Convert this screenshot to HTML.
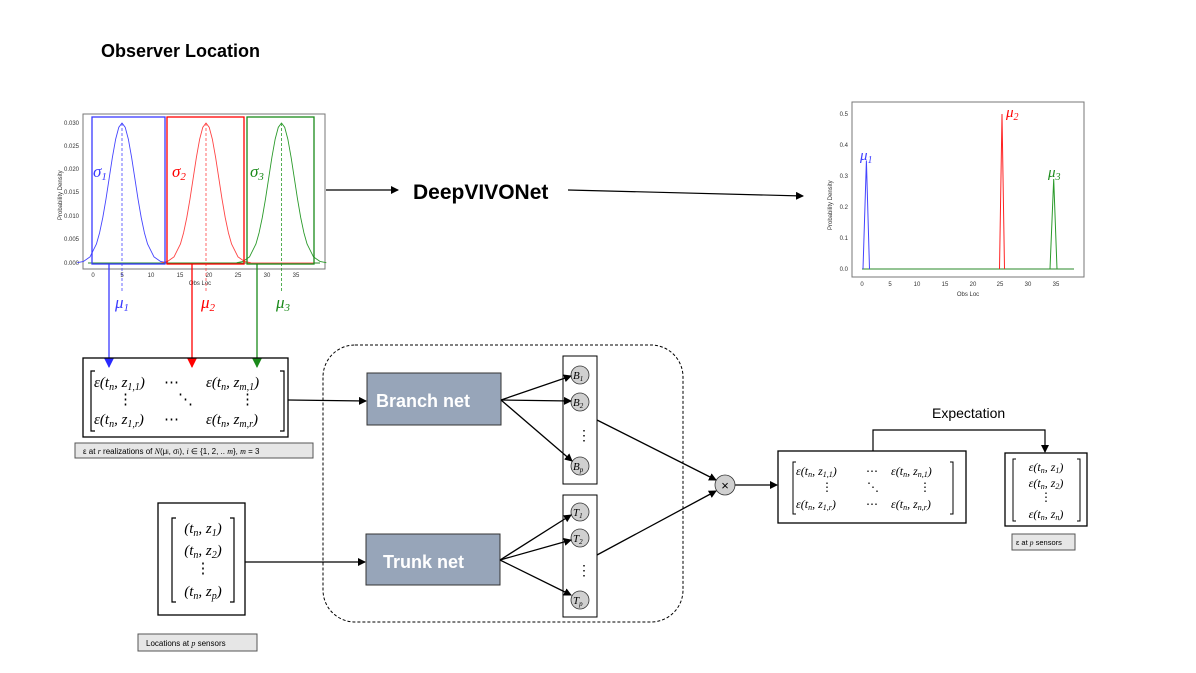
<!DOCTYPE html>
<html><head><meta charset="utf-8"><style>
html,body{margin:0;padding:0;background:#fff;}
svg{display:block;font-family:"Liberation Sans",sans-serif;}
.m{font-family:"Liberation Serif",serif;font-style:italic;}
.n{font-style:normal;}
</style></head><body>
<svg width="1196" height="673" viewBox="0 0 1196 673" xmlns="http://www.w3.org/2000/svg">
<defs>
<marker id="a" markerWidth="8" markerHeight="8" refX="7" refY="4" orient="auto" markerUnits="userSpaceOnUse"><path d="M0,0L8,4L0,8z" fill="#000"/></marker>
<marker id="ab" markerWidth="10" markerHeight="10" refX="9" refY="5" orient="auto" markerUnits="userSpaceOnUse"><path d="M0,0L10,5L0,10z" fill="#2a2aff"/></marker>
<marker id="ar" markerWidth="10" markerHeight="10" refX="9" refY="5" orient="auto" markerUnits="userSpaceOnUse"><path d="M0,0L10,5L0,10z" fill="#f00"/></marker>
<marker id="ag" markerWidth="10" markerHeight="10" refX="9" refY="5" orient="auto" markerUnits="userSpaceOnUse"><path d="M0,0L10,5L0,10z" fill="#1a8a1a"/></marker>
<path id="g" fill="none" stroke-width="0.9" stroke-linejoin="round" d="M-44.8,262.7 L-38.4,261.4 L-32,256.9 L-25.6,244.1 L-22.4,232.7 L-19.2,217.5 L-16,198.9 L-12.8,178.1 L-9.6,157.3 L-6.4,139.4 L-3.2,127.3 L0,123 L3.2,127.3 L6.4,139.4 L9.6,157.3 L12.8,178.1 L16,198.9 L19.2,217.5 L22.4,232.7 L25.6,244.1 L32,256.9 L38.4,261.4 L44.8,262.7"/>
</defs>

<text x="101" y="57" font-size="18" font-weight="bold">Observer Location</text>

<!-- left plot -->
<rect x="83" y="114" width="242" height="155" fill="none" stroke="#777" stroke-width="1"/>
<g font-size="6" fill="#333" text-anchor="end">
<text x="79" y="125">0.030</text><text x="79" y="148">0.025</text><text x="79" y="171">0.020</text><text x="79" y="194">0.015</text><text x="79" y="218">0.010</text><text x="79" y="241">0.005</text><text x="79" y="265">0.000</text>
</g>
<g font-size="6" fill="#333" text-anchor="middle">
<text x="93" y="277">0</text><text x="122" y="277">5</text><text x="151" y="277">10</text><text x="180" y="277">15</text><text x="209" y="277">20</text><text x="238" y="277">25</text><text x="267" y="277">30</text><text x="296" y="277">35</text>
<text x="200" y="285">Obs Loc</text>
</g>
<text font-size="6" fill="#333" transform="translate(62,220) rotate(-90)">Probability Density</text>
<line x1="88" y1="263" x2="320" y2="263" stroke="#2a8a2a" stroke-width="1"/>
<line x1="246" y1="263" x2="314" y2="263" stroke="#f55" stroke-width="1"/>
<use href="#g" transform="translate(122,0)" stroke="#4444ff"/>
<use href="#g" transform="translate(206,0)" stroke="#f44"/>
<use href="#g" transform="translate(281.5,0)" stroke="#2a9a2a"/>
<g stroke-dasharray="3,2" stroke-width="0.8">
<line x1="122" y1="123" x2="122" y2="292" stroke="#44f"/>
<line x1="206" y1="123" x2="206" y2="292" stroke="#f44"/>
<line x1="281.5" y1="123" x2="281.5" y2="292" stroke="#2a9a2a"/>
</g>
<rect x="92" y="117" width="73" height="147" fill="none" stroke="#3a3aff" stroke-width="1.3"/>
<rect x="167" y="117" width="77" height="147" fill="none" stroke="#f00" stroke-width="1.3"/>
<rect x="247" y="117" width="67" height="147" fill="none" stroke="#1a8a1a" stroke-width="1.3"/>
<text class="m" x="93" y="177" font-size="17" fill="#3a3aff">σ<tspan font-size="11" dy="3">1</tspan></text>
<text class="m" x="172" y="177" font-size="17" fill="#f00">σ<tspan font-size="11" dy="3">2</tspan></text>
<text class="m" x="250" y="177" font-size="17" fill="#1a8a1a">σ<tspan font-size="11" dy="3">3</tspan></text>
<text class="m" x="115" y="308" font-size="17" fill="#3a3aff">μ<tspan font-size="11" dy="3">1</tspan></text>
<text class="m" x="201" y="308" font-size="17" fill="#f00">μ<tspan font-size="11" dy="3">2</tspan></text>
<text class="m" x="276" y="308" font-size="17" fill="#1a8a1a">μ<tspan font-size="11" dy="3">3</tspan></text>
<line x1="109" y1="264" x2="109" y2="367" stroke="#3a3aff" stroke-width="1.3" marker-end="url(#ab)"/>
<line x1="192" y1="264" x2="192" y2="367" stroke="#f00" stroke-width="1.3" marker-end="url(#ar)"/>
<line x1="257" y1="264" x2="257" y2="367" stroke="#1a8a1a" stroke-width="1.3" marker-end="url(#ag)"/>

<!-- DeepVIVONet -->
<line x1="326" y1="190" x2="398" y2="190" stroke="#000" stroke-width="1.2" marker-end="url(#a)"/>
<text x="413" y="199" font-size="21" font-weight="bold">DeepVIVONet</text>
<line x1="568" y1="190" x2="803" y2="196" stroke="#000" stroke-width="1.2" marker-end="url(#a)"/>

<!-- right plot -->
<rect x="852" y="102" width="232" height="175" fill="none" stroke="#777" stroke-width="1"/>
<g font-size="6" fill="#333" text-anchor="end">
<text x="848" y="116">0.5</text><text x="848" y="147">0.4</text><text x="848" y="178">0.3</text><text x="848" y="209">0.2</text><text x="848" y="240">0.1</text><text x="848" y="271">0.0</text>
</g>
<g font-size="6" fill="#333" text-anchor="middle">
<text x="862" y="286">0</text><text x="890" y="286">5</text><text x="917" y="286">10</text><text x="945" y="286">15</text><text x="973" y="286">20</text><text x="1000" y="286">25</text><text x="1028" y="286">30</text><text x="1056" y="286">35</text>
<text x="968" y="296">Obs Loc</text>
</g>
<text font-size="6" fill="#333" transform="translate(832,230) rotate(-90)">Probability Density</text>
<line x1="862" y1="269" x2="1074" y2="269" stroke="#2a8a2a" stroke-width="1"/>
<path d="M863,269 L866.4,160.5 L869.5,269" fill="none" stroke="#44f" stroke-width="1"/>
<path d="M999.5,269 L1002,114 L1004.5,269" fill="none" stroke="#f22" stroke-width="1"/>
<path d="M1050,269 L1053.7,179 L1057,269" fill="none" stroke="#2a9a2a" stroke-width="1"/>
<text class="m" x="860" y="160" font-size="15" fill="#3a3aff">μ<tspan font-size="10" dy="3">1</tspan></text>
<text class="m" x="1006" y="117" font-size="15" fill="#f00">μ<tspan font-size="10" dy="3">2</tspan></text>
<text class="m" x="1048" y="177" font-size="15" fill="#1a8a1a">μ<tspan font-size="10" dy="3">3</tspan></text>

<!-- input matrix -->
<rect x="83" y="358" width="205" height="79" fill="none" stroke="#000" stroke-width="1.3"/>
<path d="M95,371 h-4 v60 h4 M280,371 h4 v60 h-4" fill="none" stroke="#000" stroke-width="1.2"/>
<g class="m" font-size="15">
<text x="94" y="387">ε(t<tspan font-size="10" dy="3">n</tspan><tspan dy="-3">, z</tspan><tspan font-size="10" dy="3">1,1</tspan><tspan dy="-3">)</tspan></text>
<text x="164" y="387" class="n">⋯</text>
<text x="206" y="387">ε(t<tspan font-size="10" dy="3">n</tspan><tspan dy="-3">, z</tspan><tspan font-size="10" dy="3">m,1</tspan><tspan dy="-3">)</tspan></text>
<text x="118" y="404" class="n">⋮</text><text x="178" y="404" class="n">⋱</text><text x="240" y="404" class="n">⋮</text>
<text x="94" y="424">ε(t<tspan font-size="10" dy="3">n</tspan><tspan dy="-3">, z</tspan><tspan font-size="10" dy="3">1,r</tspan><tspan dy="-3">)</tspan></text>
<text x="164" y="424" class="n">⋯</text>
<text x="206" y="424">ε(t<tspan font-size="10" dy="3">n</tspan><tspan dy="-3">, z</tspan><tspan font-size="10" dy="3">m,r</tspan><tspan dy="-3">)</tspan></text>
</g>
<rect x="75" y="443" width="238" height="15" fill="#e6e6e6" stroke="#555" stroke-width="1"/>
<text x="83" y="454" font-size="8">ε at <tspan class="m">r</tspan> realizations of <tspan class="m">N</tspan>(μ<tspan font-size="6">i</tspan>, σ<tspan font-size="6">i</tspan>), <tspan class="m">i</tspan> ∈ {1, 2, .. <tspan class="m">m</tspan>}, <tspan class="m">m</tspan> = 3</text>
<line x1="288" y1="400" x2="366" y2="401" stroke="#000" stroke-width="1.2" marker-end="url(#a)"/>

<!-- sensors input -->
<rect x="158" y="503" width="87" height="112" fill="none" stroke="#000" stroke-width="1.3"/>
<path d="M176,518 h-4 v84 h4 M230,518 h4 v84 h-4" fill="none" stroke="#000" stroke-width="1.2"/>
<g class="m" font-size="15" text-anchor="middle">
<text x="203" y="533">(t<tspan font-size="10" dy="3">n</tspan><tspan dy="-3">, z</tspan><tspan font-size="10" dy="3">1</tspan><tspan dy="-3">)</tspan></text>
<text x="203" y="555">(t<tspan font-size="10" dy="3">n</tspan><tspan dy="-3">, z</tspan><tspan font-size="10" dy="3">2</tspan><tspan dy="-3">)</tspan></text>
<text x="203" y="573" class="n">⋮</text>
<text x="203" y="596">(t<tspan font-size="10" dy="3">n</tspan><tspan dy="-3">, z</tspan><tspan font-size="10" dy="3">p</tspan><tspan dy="-3">)</tspan></text>
</g>
<rect x="138" y="634" width="119" height="17" fill="#e6e6e6" stroke="#555" stroke-width="1"/>
<text x="146" y="646" font-size="8">Locations at <tspan class="m">p</tspan> sensors</text>
<line x1="245" y1="562" x2="365" y2="562" stroke="#000" stroke-width="1.2" marker-end="url(#a)"/>

<!-- network -->
<rect x="323" y="345" width="360" height="277" rx="32" fill="none" stroke="#000" stroke-width="1" stroke-dasharray="3,2"/>
<rect x="367" y="373" width="134" height="52" fill="#97a5b9" stroke="#333" stroke-width="1"/>
<text x="376" y="407" font-size="18" font-weight="bold" fill="#fff">Branch net</text>
<rect x="366" y="534" width="134" height="51" fill="#97a5b9" stroke="#333" stroke-width="1"/>
<text x="383" y="568" font-size="18" font-weight="bold" fill="#fff">Trunk net</text>
<rect x="563" y="356" width="34" height="128" fill="none" stroke="#000" stroke-width="1"/>
<rect x="563" y="495" width="34" height="122" fill="none" stroke="#000" stroke-width="1"/>
<g fill="#d0d0d0" stroke="#333" stroke-width="0.8">
<circle cx="580" cy="375" r="9"/><circle cx="580" cy="402" r="9"/><circle cx="580" cy="466" r="9"/>
<circle cx="580" cy="512" r="9"/><circle cx="580" cy="538" r="9"/><circle cx="580" cy="600" r="9"/>
</g>
<g class="m" font-size="11">
<text x="573" y="379">B<tspan font-size="7" dy="2">1</tspan></text>
<text x="573" y="406">B<tspan font-size="7" dy="2">2</tspan></text>
<text x="573" y="470">B<tspan font-size="7" dy="2">p</tspan></text>
<text x="573" y="516">T<tspan font-size="7" dy="2">1</tspan></text>
<text x="573" y="542">T<tspan font-size="7" dy="2">2</tspan></text>
<text x="573" y="604">T<tspan font-size="7" dy="2">p</tspan></text>
</g>
<text x="577" y="440" font-size="14">⋮</text>
<text x="577" y="575" font-size="14">⋮</text>
<g stroke="#000" stroke-width="1.3" marker-end="url(#a)">
<line x1="501" y1="400" x2="571" y2="376"/>
<line x1="501" y1="400" x2="571" y2="401"/>
<line x1="501" y1="400" x2="572" y2="461"/>
<line x1="500" y1="560" x2="571" y2="515"/>
<line x1="500" y1="560" x2="571" y2="540"/>
<line x1="500" y1="560" x2="571" y2="595"/>
<line x1="597" y1="420" x2="716" y2="480"/>
<line x1="597" y1="555" x2="716" y2="491"/>
<line x1="735" y1="485" x2="777" y2="485"/>
</g>
<circle cx="725" cy="485" r="10" fill="#d0d0d0" stroke="#333" stroke-width="0.8"/>
<text x="725" y="490" font-size="13" text-anchor="middle">×</text>

<!-- output matrix -->
<rect x="778" y="451" width="188" height="72" fill="none" stroke="#000" stroke-width="1.3"/>
<path d="M796,462 h-3 v52 h3 M950,462 h3 v52 h-3" fill="none" stroke="#000" stroke-width="1"/>
<g class="m" font-size="12">
<text x="796" y="475">ε(t<tspan font-size="8" dy="2">n</tspan><tspan dy="-2">, z</tspan><tspan font-size="8" dy="2">1,1</tspan><tspan dy="-2">)</tspan></text>
<text x="866" y="475" class="n">⋯</text>
<text x="891" y="475">ε(t<tspan font-size="8" dy="2">n</tspan><tspan dy="-2">, z</tspan><tspan font-size="8" dy="2">n,1</tspan><tspan dy="-2">)</tspan></text>
<text x="821" y="491" class="n">⋮</text><text x="867" y="491" class="n">⋱</text><text x="919" y="491" class="n">⋮</text>
<text x="796" y="508">ε(t<tspan font-size="8" dy="2">n</tspan><tspan dy="-2">, z</tspan><tspan font-size="8" dy="2">1,r</tspan><tspan dy="-2">)</tspan></text>
<text x="866" y="508" class="n">⋯</text>
<text x="891" y="508">ε(t<tspan font-size="8" dy="2">n</tspan><tspan dy="-2">, z</tspan><tspan font-size="8" dy="2">n,r</tspan><tspan dy="-2">)</tspan></text>
</g>
<text x="932" y="418" font-size="14">Expectation</text>
<path d="M873,451 V430 H1045 V452" fill="none" stroke="#000" stroke-width="1.2" marker-end="url(#a)"/>
<rect x="1005" y="453" width="82" height="73" fill="none" stroke="#000" stroke-width="1.3"/>
<path d="M1016,459 h-3 v62 h3 M1077,459 h3 v62 h-3" fill="none" stroke="#000" stroke-width="1"/>
<g class="m" font-size="12" text-anchor="middle">
<text x="1046" y="471">ε(t<tspan font-size="8" dy="2">n</tspan><tspan dy="-2">, z</tspan><tspan font-size="8" dy="2">1</tspan><tspan dy="-2">)</tspan></text>
<text x="1046" y="487">ε(t<tspan font-size="8" dy="2">n</tspan><tspan dy="-2">, z</tspan><tspan font-size="8" dy="2">2</tspan><tspan dy="-2">)</tspan></text>
<text x="1046" y="501" class="n">⋮</text>
<text x="1046" y="518">ε(t<tspan font-size="8" dy="2">n</tspan><tspan dy="-2">, z</tspan><tspan font-size="8" dy="2">n</tspan><tspan dy="-2">)</tspan></text>
</g>
<rect x="1012" y="534" width="63" height="16" fill="#e6e6e6" stroke="#555" stroke-width="1"/>
<text x="1016" y="545" font-size="7.5">ε at <tspan class="m">p</tspan> sensors</text>
</svg>
</body></html>
